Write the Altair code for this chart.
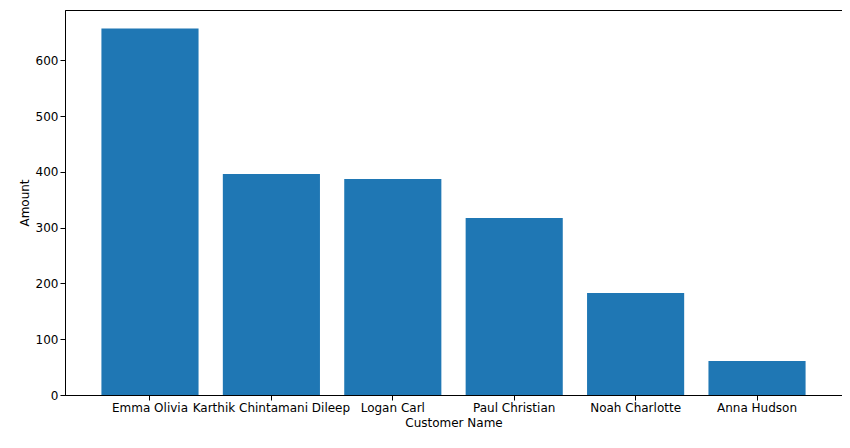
import altair as alt
import pandas as pd

customers = ["Emma Olivia", "Karthik Chintamani Dileep", "Logan Carl",
             "Paul Christian", "Noah Charlotte", "Anna Hudson"]
amounts = [657, 396, 387, 317, 183, 61]

df = pd.DataFrame({"Customer Name": customers, "Amount": amounts})

chart = (
    alt.Chart(df)
    .mark_bar(color="#1f77b4")
    .encode(
        x=alt.X("Customer Name:N", sort=customers, title="Customer Name",
                scale=alt.Scale(paddingInner=0.2, paddingOuter=0.3),
                axis=alt.Axis(labelAngle=0, labelOverlap=False, labelFontSize=12,
                              titleFontSize=12, titleFontWeight="normal",
                              domainColor="black", tickColor="black",
                              labelColor="black", titleColor="black")),
        y=alt.Y("Amount:Q", title="Amount",
                scale=alt.Scale(domain=[0, 690], nice=False),
                axis=alt.Axis(values=[0, 100, 200, 300, 400, 500, 600], grid=False,
                              labelFontSize=12, titleFontSize=12,
                              titleFontWeight="normal", domainColor="black",
                              tickColor="black", labelColor="black",
                              titleColor="black")),
    )
    .properties(width=777, height=385, autosize="none",
                padding={"left": 57, "top": 2, "right": 0, "bottom": 40})
    .configure(font="DejaVu Sans")
    .configure_view(stroke="black", strokeWidth=1)
)

chart.save("out.html", embed_options={"renderer": "svg", "actions": False})
